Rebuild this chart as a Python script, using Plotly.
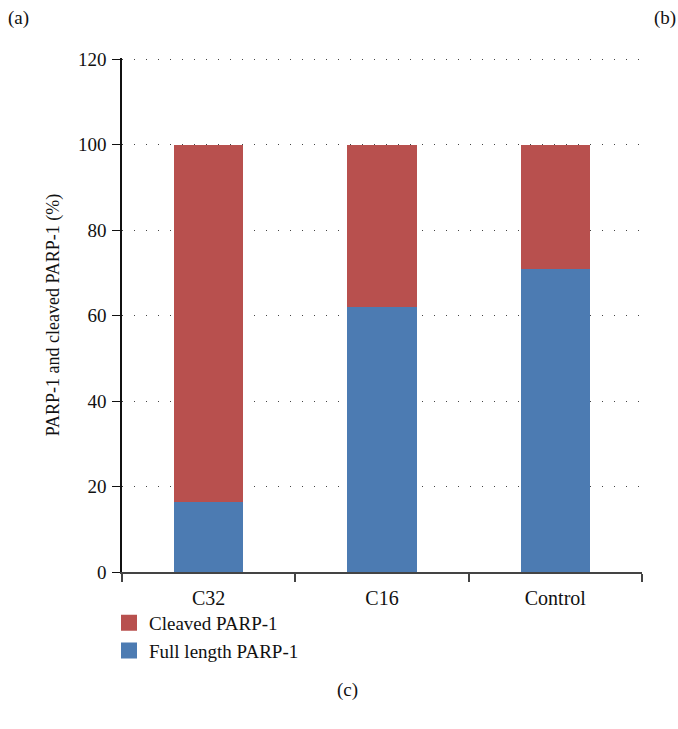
import plotly.graph_objects as go

# Sample groups and PARP-1 fractions (%)
groups = ["C32", "C16", "Control"]
full_length = [16.5, 62, 71]
cleaved = [83.5, 38, 29]
y_ticks = [0, 20, 40, 60, 80, 100, 120]

RED = "#B8504E"
BLUE = "#4C7BB2"
FONT = "Liberation Serif"
W, H = 678, 729
ML, MR, MT, MB = 122, 36, 58, 157

fig = go.Figure()

# Stacked bars: full length at the bottom, cleaved on top
fig.add_trace(go.Bar(x=groups, y=full_length, marker=dict(color=BLUE, line_width=0),
                     width=0.4, showlegend=False, name="Full length PARP-1"))
fig.add_trace(go.Bar(x=groups, y=cleaved, marker=dict(color=RED, line_width=0),
                     width=0.4, showlegend=False, name="Cleaved PARP-1"))

# Legend entries with square swatches
fig.add_trace(go.Scatter(x=[None], y=[None], mode="markers", name="Cleaved PARP-1",
                         marker=dict(symbol="square", size=16, color=RED)))
fig.add_trace(go.Scatter(x=[None], y=[None], mode="markers", name="Full length PARP-1",
                         marker=dict(symbol="square", size=16, color=BLUE)))

pw, ph = W - ML - MR, H - MT - MB


def px(xp):
    return (xp - ML) / pw


def py(yp):
    return (H - MB - yp) / ph


def panel_label(text, x, y):
    return dict(text=text, x=px(x), y=py(y), xref="paper", yref="paper",
                xanchor="center", yanchor="middle", showarrow=False,
                font=dict(size=19, family=FONT, color="#111"))


fig.update_layout(
    width=W, height=H,
    barmode="stack",
    paper_bgcolor="white", plot_bgcolor="white",
    margin=dict(l=ML, r=MR, t=MT, b=MB),
    font=dict(family=FONT, size=19, color="#111"),
    legend=dict(x=-0.025, y=-0.062, xanchor="left", yanchor="top",
                traceorder="normal", font=dict(size=19, family=FONT, color="#111"),
                tracegroupgap=0, bgcolor="rgba(0,0,0,0)"),
    annotations=[
        panel_label("(a)", 18, 18),
        panel_label("(b)", 665, 18),
        panel_label("(c)", 347, 690),
    ],
)

fig.update_yaxes(
    range=[0, 120.3], tickvals=y_ticks, ticks="outside", ticklen=8, tickcolor="#111",
    showline=True, linecolor="#111", linewidth=1.5,
    showgrid=True, gridcolor="#444", gridwidth=1, griddash="1px,11px",
    zeroline=False, tickfont=dict(size=19, family=FONT), ticklabelstandoff=2,
    title=dict(text="PARP-1 and cleaved PARP-1 (%)", font=dict(size=18, family=FONT),
               standoff=14),
)
fig.update_xaxes(
    range=[-0.5, 2.5], showline=True, linecolor="#444", linewidth=2,
    ticks="outside", tickson="boundaries", ticklen=8, tickcolor="#444", tickwidth=1.5,
    showgrid=False, tickfont=dict(size=20, family=FONT), ticklabelstandoff=7,
)

fig.write_html("out.html")
